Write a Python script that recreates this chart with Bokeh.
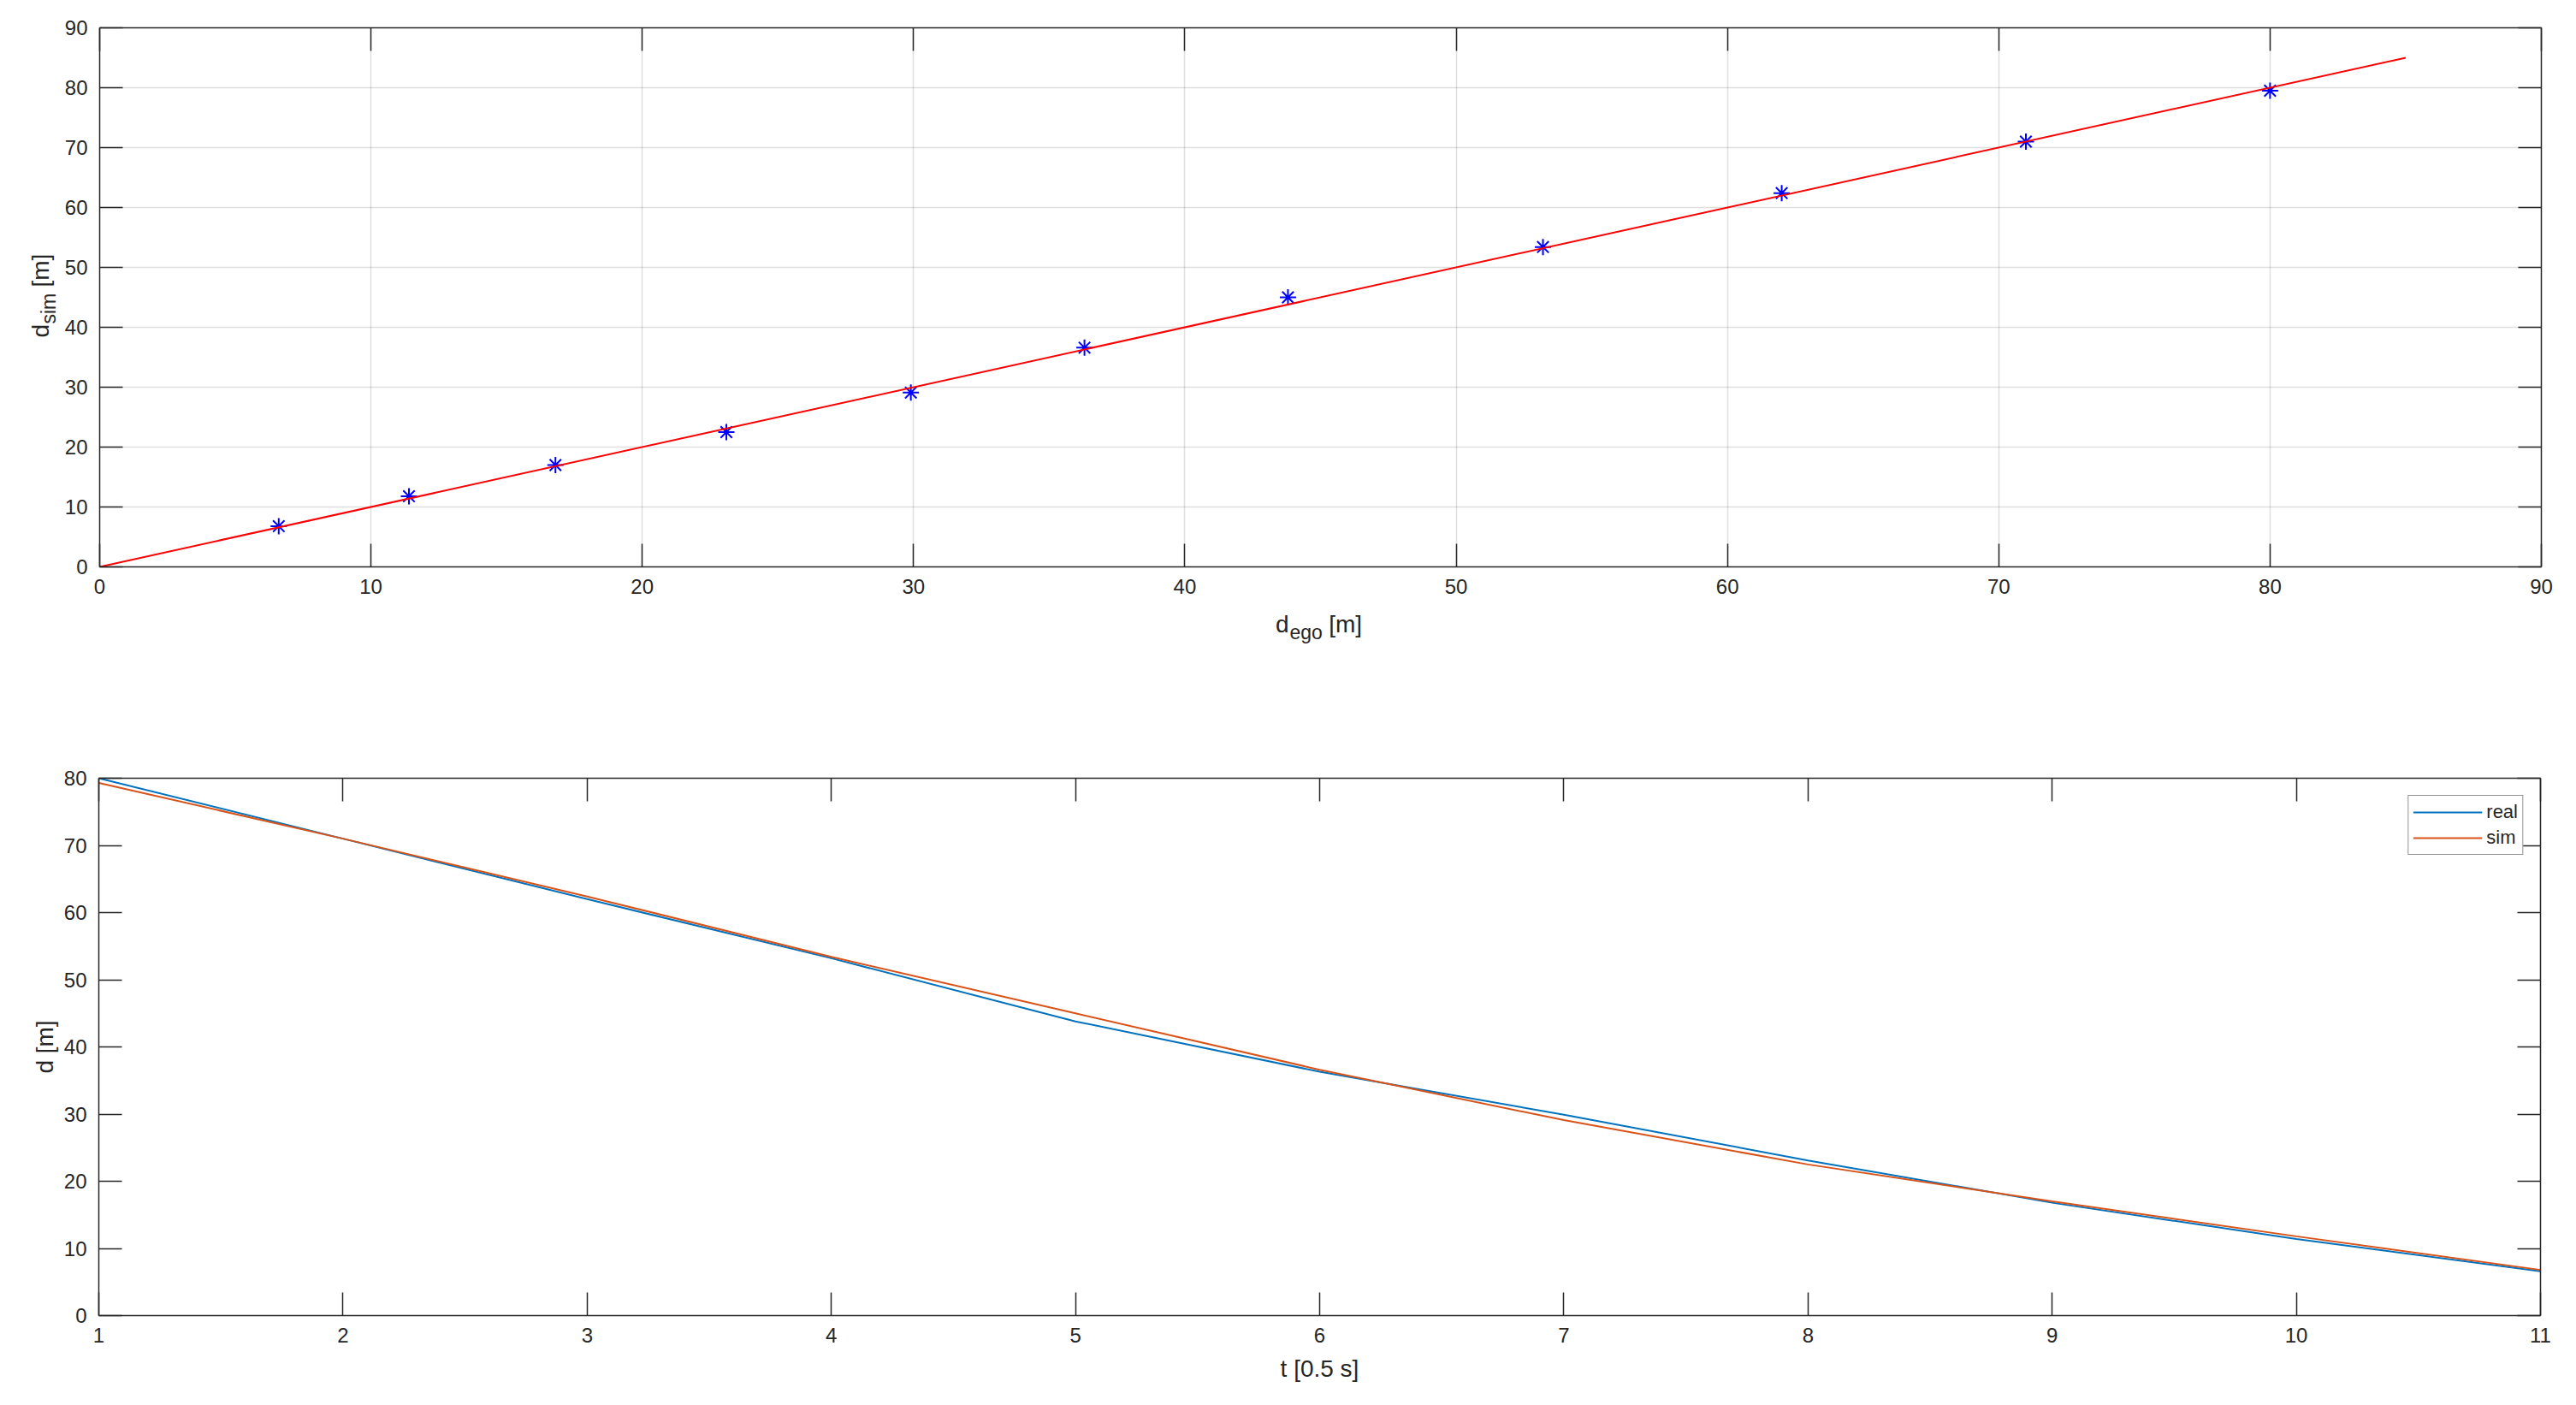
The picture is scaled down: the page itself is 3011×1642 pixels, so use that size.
import math
from bokeh.plotting import figure
from bokeh.models import Range1d, LinearAxis, FixedTicker, Label, Legend, LegendItem
from bokeh.layouts import column, row
from bokeh.embed import file_html
from bokeh.resources import INLINE

# ---------------- data ----------------
# top panel: scatter of simulated vs. ego distance, plus identity line
d_ego = [6.6, 11.4, 16.8, 23.1, 29.9, 36.3, 43.8, 53.2, 62.0, 71.0, 80.0]
d_sim = [6.8, 11.8, 17.0, 22.5, 29.1, 36.6, 45.0, 53.4, 62.4, 71.0, 79.5]
fit_x = [0, 85]
fit_y = [0, 85]
top_ticks = [0, 10, 20, 30, 40, 50, 60, 70, 80, 90]

# bottom panel: distance over time
t_steps = [1, 2, 3, 4, 5, 6, 7, 8, 9, 10, 11]
d_real_t = [80.0, 71.0, 62.0, 53.2, 43.8, 36.3, 29.9, 23.1, 16.8, 11.4, 6.6]
d_sim_t = [79.3, 71.0, 62.4, 53.4, 45.0, 36.6, 29.1, 22.5, 17.0, 11.8, 6.8]
bottom_x_ticks = [1, 2, 3, 4, 5, 6, 7, 8, 9, 10, 11]
bottom_y_ticks = [0, 10, 20, 30, 40, 50, 60, 70, 80]

FONT = "Liberation Sans"
AX = "#262626"

# layout (pixels)
FW = 2854                    # axes box width
LEFT, RIGHT = 115, 34        # borders around the box
TOTAL_W = LEFT + FW + RIGHT
TOP_H = 808                  # height of the whole upper section
YLAB_W = 72                  # strip holding the rotated y title of the top plot
XLAB_H = 95                  # strip holding the x title of the top plot


def style_axis(ax, ticks, labels=True):
    ax.ticker = FixedTicker(ticks=ticks)
    ax.major_tick_in = 27
    ax.major_tick_out = 0
    ax.minor_tick_in = 0
    ax.minor_tick_out = 0
    ax.axis_line_color = AX
    ax.axis_line_width = 1.5
    ax.major_tick_line_color = AX
    ax.major_tick_line_width = 1.5
    ax.major_label_text_font = FONT
    ax.major_label_standoff = 14
    if labels:
        ax.major_label_text_font_size = "24px"
        ax.major_label_text_color = AX
    else:
        ax.major_label_text_font_size = "0px"
        ax.major_label_text_color = None


def text_strip(w, h):
    s = figure(width=w, height=h, x_range=Range1d(0, w), y_range=Range1d(0, h),
               x_axis_location=None, y_axis_location=None,
               output_backend="svg", toolbar_location=None,
               min_border=0, min_border_left=0, min_border_right=0,
               min_border_top=0, min_border_bottom=0,
               background_fill_color="white", border_fill_color="white",
               outline_line_color=None)
    s.grid.visible = False
    return s


def lab(p, text, x, y, size, angle=0.0):
    p.add_layout(Label(x=x, y=y, x_units="data", y_units="data", text=text,
                       angle=angle, text_font=FONT, text_font_size=size,
                       text_color=AX, text_align="left", text_baseline="alphabetic"))


# ---------------- top figure ----------------
p1 = figure(frame_width=FW, frame_height=630, x_range=Range1d(0, 90), y_range=Range1d(0, 90),
            output_backend="svg", toolbar_location=None,
            min_border_left=LEFT - YLAB_W, min_border_right=RIGHT,
            min_border_top=32, min_border_bottom=TOP_H - 32 - 630 - XLAB_H,
            background_fill_color="white", border_fill_color="white",
            outline_line_color=None)
p1.add_layout(LinearAxis(), "above")
p1.add_layout(LinearAxis(), "right")
style_axis(p1.below[0], top_ticks)
style_axis(p1.left[0], top_ticks)
style_axis(p1.above[0], top_ticks, labels=False)
style_axis(p1.right[0], top_ticks, labels=False)
for g in (p1.xgrid[0], p1.ygrid[0]):
    g.ticker = FixedTicker(ticks=top_ticks)
    g.grid_line_color = AX
    g.grid_line_alpha = 0.15
    g.grid_line_width = 1.5

p1.scatter(d_ego, d_sim, marker="asterisk", size=19, line_color="blue", line_width=2)
p1.line(fit_x, fit_y, line_color="red", line_width=2)

# x title of the top plot: d_ego [m]
xlab = text_strip(TOTAL_W - YLAB_W, XLAB_H)
xo = 66 - YLAB_W
lab(xlab, "d", 1418 + xo, 79, "28px")
lab(xlab, "ego", 1435 + xo, 70, "23px")
lab(xlab, "[m]", 1482 + xo, 79, "28px")

# y title of the top plot: d_sim [m] (rotated)
ylab = text_strip(YLAB_W, TOP_H)
lab(ylab, "d", 47, 414, "28px", math.pi / 2)
lab(ylab, "sim", 56, 430, "23px", math.pi / 2)
lab(ylab, "[m]", 47, 473, "28px", math.pi / 2)

# ---------------- bottom figure ----------------
p2 = figure(frame_width=FW, frame_height=628, x_range=Range1d(1, 11), y_range=Range1d(0, 80),
            output_backend="svg", toolbar_location=None,
            min_border_left=LEFT, min_border_right=RIGHT,
            min_border_top=101, min_border_bottom=90,
            background_fill_color="white", border_fill_color="white",
            outline_line_color=None)
p2.add_layout(LinearAxis(), "above")
p2.add_layout(LinearAxis(), "right")
style_axis(p2.below[0], bottom_x_ticks)
style_axis(p2.left[0], bottom_y_ticks)
style_axis(p2.above[0], bottom_x_ticks, labels=False)
style_axis(p2.right[0], bottom_y_ticks, labels=False)
p2.xgrid[0].visible = False
p2.ygrid[0].visible = False

for ax, txt, so in ((p2.below[0], "t [0.5 s]", 12), (p2.left[0], "d [m]", 4)):
    ax.axis_label = txt
    ax.axis_label_text_font = FONT
    ax.axis_label_text_font_size = "28px"
    ax.axis_label_text_font_style = "normal"
    ax.axis_label_text_color = AX
    ax.axis_label_standoff = so

r_real = p2.line(t_steps, d_real_t, line_color="#0072BD", line_width=2)
r_sim = p2.line(t_steps, d_sim_t, line_color="#D95319", line_width=2)

legend = Legend(items=[LegendItem(label="real", renderers=[r_real]),
                       LegendItem(label="sim", renderers=[r_sim])],
                location="top_right", margin=20, padding=5, spacing=2,
                glyph_width=81, glyph_height=28, label_height=28, label_standoff=5,
                label_text_font=FONT, label_text_font_size="22px",
                label_text_color=AX,
                border_line_color=AX, border_line_width=1.5,
                background_fill_color="white", background_fill_alpha=1.0)
p2.add_layout(legend)

layout = column(row(ylab, column(p1, xlab, spacing=0), spacing=0), p2, spacing=0)
open("out.html", "w").write(file_html(layout, INLINE))
